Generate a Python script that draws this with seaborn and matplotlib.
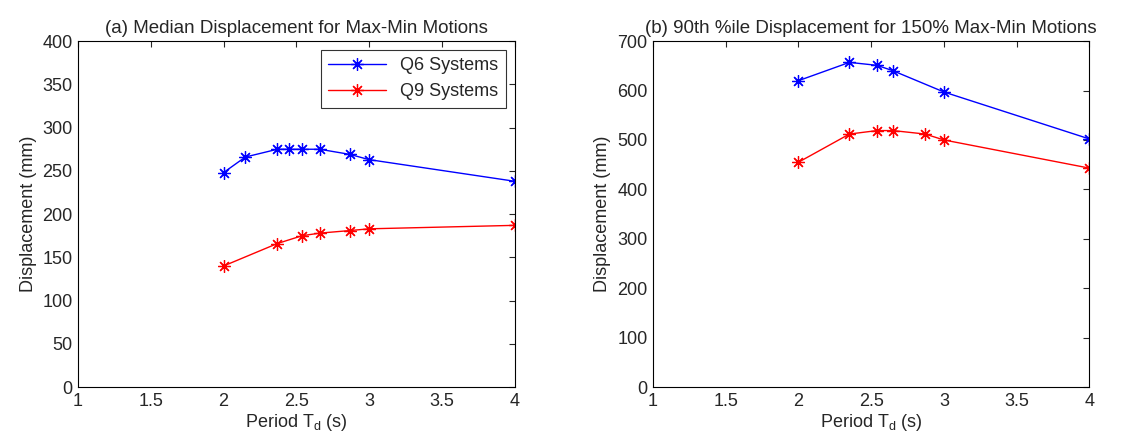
import matplotlib
matplotlib.use("Agg")
import matplotlib.pyplot as plt
import seaborn as sns
import pandas as pd

# panel (a): median displacement
a_q6_period = [2.0, 2.15, 2.37, 2.45, 2.54, 2.66, 2.87, 3.0, 4.0]
a_q6_disp = [248, 266, 275, 275, 275, 275, 269, 263, 238]
a_q9_period = [2.0, 2.37, 2.54, 2.66, 2.87, 3.0, 4.0]
a_q9_disp = [140, 166, 175, 178, 181, 183, 187]

# panel (b): 90th percentile displacement
b_q6_period = [2.0, 2.35, 2.54, 2.65, 3.0, 4.0]
b_q6_disp = [620, 657, 651, 640, 597, 502]
b_q9_period = [2.0, 2.35, 2.54, 2.65, 2.87, 3.0, 4.0]
b_q9_disp = [455, 512, 519, 519, 512, 500, 443]

titles = ["(a) Median Displacement for Max-Min Motions",
          "(b) 90th %ile Displacement for 150% Max-Min Motions"]
series_names = ["Q6 Systems", "Q9 Systems"]

sns.set_style("white")
plt.rcParams["font.family"] = ["Liberation Sans", "DejaVu Sans"]

fig = plt.figure(figsize=(11.21, 4.47), dpi=100)
ax1 = fig.add_axes([0.0696, 0.134, 0.3894, 0.774])
ax2 = fig.add_axes([0.5825, 0.134, 0.3894, 0.774])

panels = [
    (ax1, a_q6_period, a_q6_disp, a_q9_period, a_q9_disp, 400, 50),
    (ax2, b_q6_period, b_q6_disp, b_q9_period, b_q9_disp, 700, 100),
]

for i, (ax, p6, d6, p9, d9, ymax, ystep) in enumerate(panels):
    df = pd.concat([
        pd.DataFrame({"period": p6, "disp": d6, "system": series_names[0]}),
        pd.DataFrame({"period": p9, "disp": d9, "system": series_names[1]}),
    ])
    sns.lineplot(data=df, x="period", y="disp", hue="system",
                 palette=["#0000ff", "#ff0000"], marker=(8, 2, 0),
                 markersize=9, markeredgewidth=0.9, linewidth=1.0,
                 ax=ax, legend=(i == 0))
    # asterisk markers have no fill, so colour their edges like the line
    for ln in ax.lines:
        ln.set_markeredgecolor(ln.get_color())
    ax.set_xlim(1, 4)
    ax.set_ylim(0, ymax)
    ax.set_xticks([1, 1.5, 2, 2.5, 3, 3.5, 4])
    ax.set_xticklabels(["1", "1.5", "2", "2.5", "3", "3.5", "4"])
    ax.set_yticks(range(0, ymax + 1, ystep))
    ax.tick_params(direction="in", top=True, right=True, length=4,
                   labelsize=13, pad=4)
    for s in ax.spines.values():
        s.set_color("black")
        s.set_linewidth(0.8)
    ax.set_title(titles[i], fontsize=13.5, pad=6)
    ax.set_xlabel("Period T$_\\mathregular{d}$ (s)", fontsize=13, labelpad=2)
    ax.set_ylabel("Displacement (mm)", fontsize=13, labelpad=4)

leg = ax1.legend(loc="upper right", fontsize=13, frameon=True,
                 fancybox=False, edgecolor="black", borderpad=0.4,
                 handlelength=3.2, labelspacing=0.5)
leg.get_frame().set_linewidth(0.8)
for h in leg.get_lines():
    h.set_markeredgecolor(h.get_color())

fig.savefig("out.png", dpi=100)
